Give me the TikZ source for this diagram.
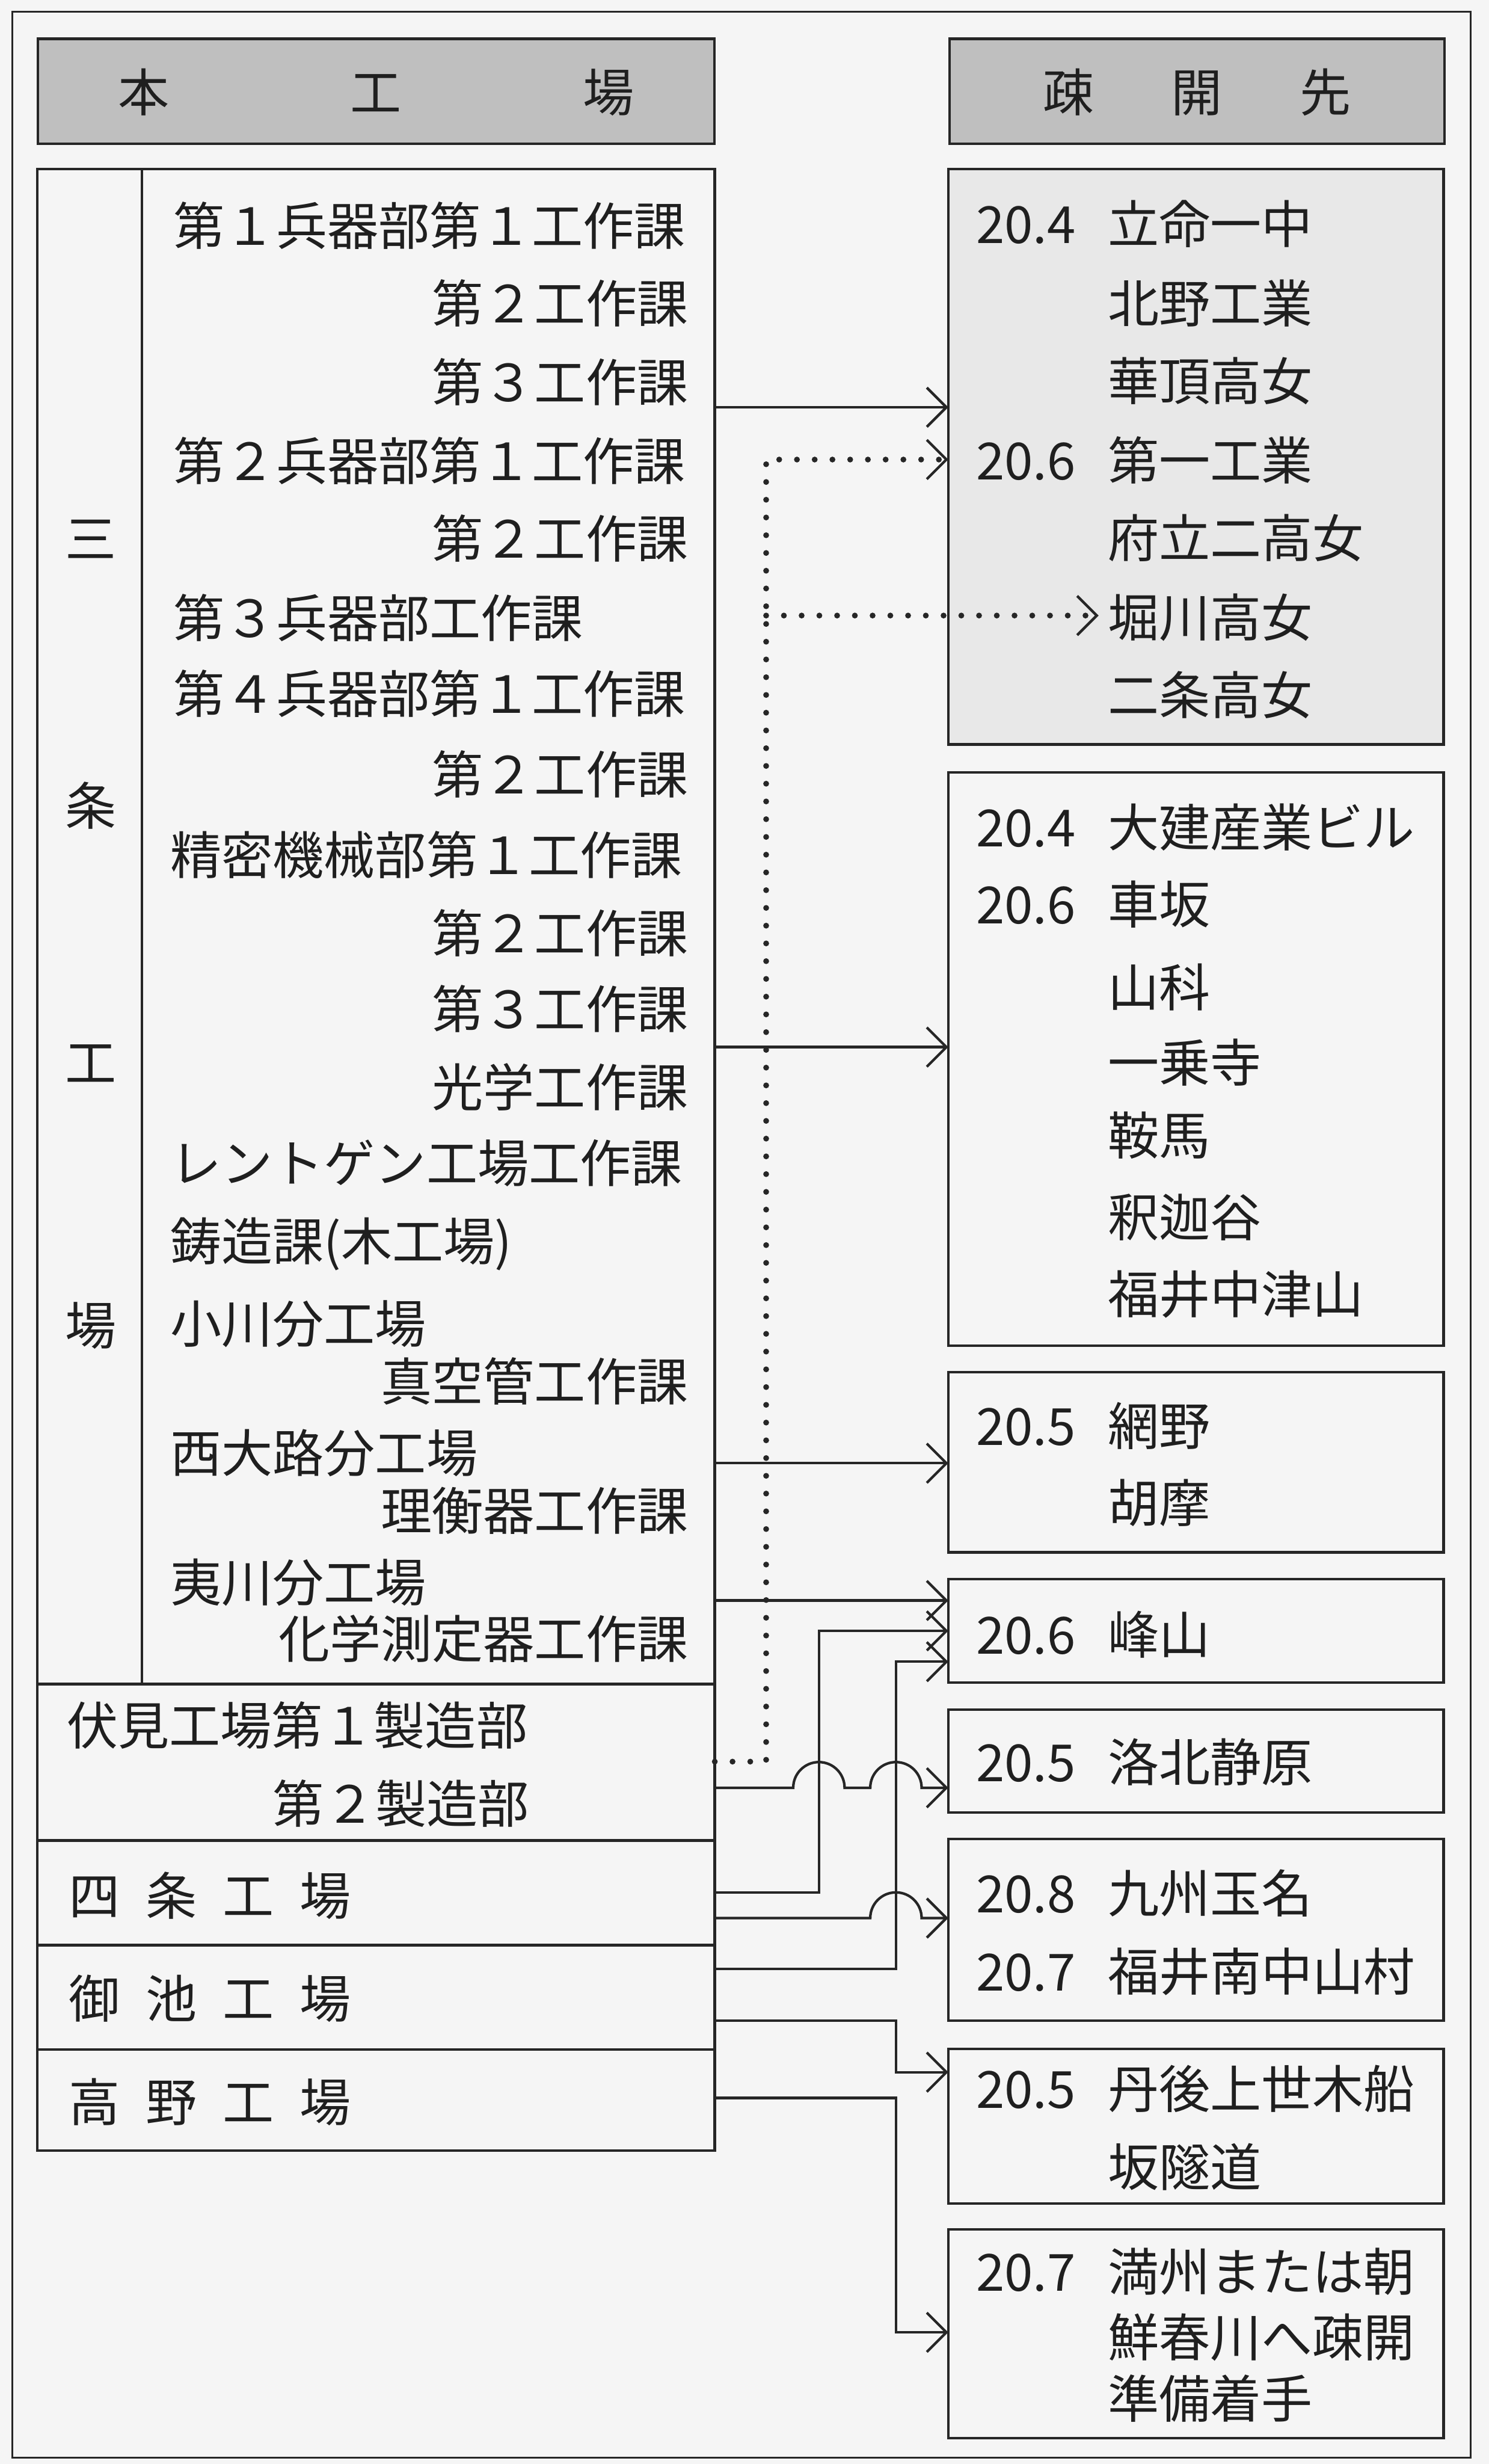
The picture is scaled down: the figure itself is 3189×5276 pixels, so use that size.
\documentclass[tikz,border=0pt]{standalone}
\usepackage{fontspec}
\newfontfamily\jp{Noto Sans CJK JP}
\usetikzlibrary{arrows.meta,fit}
\begin{document}
\begin{tikzpicture}[x=0.1mm,y=-0.1mm,
  ln/.style={draw=black!85, line width=0.55mm},
  box/.style={ln, inner sep=0pt, outer sep=0pt},
  txt/.style={font=\jp\fontsize{31.2pt}{31.2pt}\selectfont, text=black!88, inner sep=0pt, outer sep=0pt, text height=28pt, text depth=3.5pt},
  arr/.style={ln, -{Straight Barb[length=4.2mm,width=8.4mm]}},
  dotline/.style={draw=black!85, line width=1.25mm, line cap=round, dash pattern=on 0pt off 3.8mm,
    -{Straight Barb[length=4.2mm,width=8.4mm,line width=0.55mm]}},
  lt/.style={txt, anchor=west},
  rt/.style={txt, anchor=east}]
\fill[black!4] (0,0) rectangle (3189,5276);
\useasboundingbox (0,0) rectangle (3189,5276);
\draw[line width=0.4mm, black!85] (26,25) rectangle (3150,5262);

% headers
\node[box, fill=black!25, fit={(81,83) (1530,308)}] (h1) {};
\node[box, fill=black!25, fit={(2034,83) (3094,308)}] (h2) {};
\node[txt] at (h1.center) {本\hspace{38.8mm}工\hspace{38.8mm}場};
\node[txt] at (h2.center) {疎\hspace{16.5mm}開\hspace{16.5mm}先};

% left boxes
\node[box, fit={(80,362) (1531,3606)}] (sanjo) {};
\node[box, fit={(80,3606) (1531,3941)}] (fushimi) {};
\node[box, fit={(80,3941) (1531,4165)}] (shijo) {};
\node[box, fit={(80,4165) (1531,4388)}] (oike) {};
\node[box, fit={(80,4388) (1531,4605)}] (takano) {};
\draw[ln] (sanjo.north -| 304,0) -- (sanjo.south -| 304,0);

% right boxes
\node[box, fill=black!9, fit={(2031,362) (3092,1594)}] (b1) {};
\node[box, fit={(2031,1654) (3092,2881)}] (b2) {};
\node[box, fit={(2031,2938) (3092,3324)}] (b3) {};
\node[box, fit={(2031,3381) (3092,3603)}] (b4) {};
\node[box, fit={(2031,3661) (3092,3881)}] (b5) {};
\node[box, fit={(2031,3938) (3092,4327)}] (b6) {};
\node[box, fit={(2031,4387) (3092,4718)}] (b7) {};
\node[box, fit={(2031,4774) (3092,5221)}] (b8) {};

% vertical label
\node[txt] (v1) at (194,1151) {三};
\node[txt] (v2) at (194,1724) {条};
\node[txt] (v3) at (194,2274) {工};
\node[txt] (v4) at (194,2837) {場};

% left rows
\node[lt] (l1) at (372,482) {第１兵器部第１工作課};
\node[rt] (l2) at (1474,648) {第２工作課};
\node[rt] (l3) at (1474,817) {第３工作課};
\node[lt] (l4) at (372,986) {第２兵器部第１工作課};
\node[rt] (l5) at (1474,1151) {第２工作課};
\node[lt] (l6) at (372,1322) {第３兵器部工作課};
\node[lt] (l7) at (372,1484) {第４兵器部第１工作課};
\node[rt] (l8) at (1474,1657) {第２工作課};
\node[lt] (l9) at (365,1829) {精密機械部第１工作課};
\node[rt] (l10) at (1474,1996) {第２工作課};
\node[rt] (l11) at (1474,2159) {第３工作課};
\node[rt] (l12) at (1474,2326) {光学工作課};
\node[lt] (l13) at (365,2489) {レントゲン工場工作課};
\node[lt] (l14) at (365,2656) {鋳造課(木工場)};
\node[lt] (l15) at (365,2833) {小川分工場};
\node[rt] (l16) at (1474,2956) {真空管工作課};
\node[lt] (l17) at (365,3110) {西大路分工場};
\node[rt] (l18) at (1474,3233) {理衡器工作課};
\node[lt] (l19) at (365,3387) {夷川分工場};
\node[rt] (l20) at (1474,3507) {化学測定器工作課};
\node[lt] (f1) at (143,3693) {伏見工場第１製造部};
\node[rt] (f2) at (1133,3861) {第２製造部};
\node[lt] (s1) at (148,4057) {四\hspace{5.5mm}条\hspace{5.5mm}工\hspace{5.5mm}場};
\node[lt] (o1) at (148,4278) {御\hspace{5.5mm}池\hspace{5.5mm}工\hspace{5.5mm}場};
\node[lt] (k1) at (148,4499) {高\hspace{5.5mm}野\hspace{5.5mm}工\hspace{5.5mm}場};

% right texts
\node[lt] (d1) at (2091,478) {20.4};
\node[lt] (r1) at (2373,478) {立命一中};
\node[lt] (r2) at (2373,648) {北野工業};
\node[lt] (r3) at (2373,814) {華頂高女};
\node[lt] (d2) at (2091,984) {20.6};
\node[lt] (r4) at (2373,984) {第一工業};
\node[lt] (r5) at (2373,1150) {府立二高女};
\node[lt] (thori) at (2373,1320) {堀川高女};
\node[lt] (r7) at (2373,1486) {二条高女};

\node[lt] (d3) at (2091,1770) {20.4};
\node[lt] (r8) at (2373,1770) {大建産業ビル};
\node[lt] (d4) at (2091,1935) {20.6};
\node[lt] (r9) at (2373,1935) {車坂};
\node[lt] (r10) at (2373,2113) {山科};
\node[lt] (r11) at (2373,2274) {一乗寺};
\node[lt] (r12) at (2373,2430) {鞍馬};
\node[lt] (r13) at (2373,2604) {釈迦谷};
\node[lt] (r14) at (2373,2770) {福井中津山};

\node[lt] (d5) at (2091,3051) {20.5};
\node[lt] (r15) at (2373,3051) {網野};
\node[lt] (r16) at (2373,3216) {胡摩};

\node[lt] (d6) at (2091,3498) {20.6};
\node[lt] (r17) at (2373,3498) {峰山};

\node[lt] (d7) at (2091,3771) {20.5};
\node[lt] (r18) at (2373,3771) {洛北静原};

\node[lt] (d8) at (2091,4053) {20.8};
\node[lt] (r19) at (2373,4053) {九州玉名};
\node[lt] (d9) at (2091,4220) {20.7};
\node[lt] (r20) at (2373,4220) {福井南中山村};

\node[lt] (d10) at (2091,4471) {20.5};
\node[lt] (r21) at (2373,4471) {丹後上世木船};
\node[lt] (r22) at (2373,4639) {坂隧道};

\node[lt] (d11) at (2091,4863) {20.7};
\node[lt] (r23) at (2373,4863) {満州または朝};
\node[lt] (r24) at (2373,5003) {鮮春川へ疎開};
\node[lt] (r25) at (2373,5134) {準備着手};

% connectors
\draw[arr] (sanjo.east |- 0,872) -- (b1.west |- 0,872);
\draw[arr] (sanjo.east |- 0,2242) -- (b2.west |- 0,2242);
\draw[arr] (sanjo.east |- 0,3133) -- (b3.west |- 0,3133);
\draw[arr] (sanjo.east |- 0,3427) -- (b4.west |- 0,3427);
\draw[arr] (shijo.east |- 0,4052) -| (1754,3492) -- (b4.west |- 0,3492);
\draw[arr] (oike.east |- 0,4216) -| (1919,3558) -- (b4.west |- 0,3558);
\draw[arr] (fushimi.east |- 0,3828) -- (1699,3828)
   arc[start angle=180,end angle=0,radius=5.5mm] -- (1864,3828)
   arc[start angle=180,end angle=0,radius=5.5mm] -- (b5.west |- 0,3828);
\draw[arr] (shijo.east |- 0,4107) -- (1864,4107)
   arc[start angle=180,end angle=0,radius=5.5mm] -- (b6.west |- 0,4107);
\draw[arr] (oike.east |- 0,4327) -| (1919,4437) -- (b7.west |- 0,4437);
\draw[arr] (takano.east |- 0,4492) -| (1919,4994) -- (b8.west |- 0,4994);

\draw[dotline] (fushimi.east |- 0,3772) -| (1641,984) -- (b1.west |- 0,984);
\draw[dotline] (1641,1318) -- ([xshift=-2mm]thori.west |- 0,1318);
\end{tikzpicture}
\end{document}
